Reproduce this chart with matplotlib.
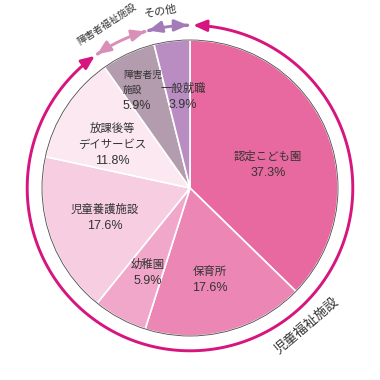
import numpy as np
import matplotlib
matplotlib.use("Agg")
import matplotlib.pyplot as plt
from matplotlib.patches import FancyArrowPatch, Circle
from matplotlib.path import Path

plt.rcParams['font.family'] = ['Liberation Sans', 'Noto Sans CJK JP', 'DejaVu Sans']

# ---- data ----
categories = ["認定こども園", "保育所", "幼稚園", "児童養護施設",
              "放課後等\nデイサービス", "障害者児\n施設", "一般就職"]
values = [37.3, 17.6, 5.9, 17.6, 11.8, 5.9, 3.9]
colors = ["#E8699F", "#EC87B5", "#F1A7C9", "#F6CDE1", "#FBE8F1", "#B49CAF", "#B98DC1"]
group_names = ["児童福祉施設", "障害者福祉施設", "その他"]
group_sizes = [5, 1, 1]            # number of slices in each group
group_colors = ["#D6157F", "#D990B8", "#A47BB9"]

# label layout (data units, pie radius = 1): point between name and percentage
label_pos = [(0.527, 0.162), (0.135, -0.615), (-0.284, -0.568), (-0.574, -0.196),
             (-0.527, 0.243), (-0.453, 0.615), (-0.047, 0.622)]
label_ha = ["center"] * 5 + ["left", "center"]
name_size = [8.2, 8.2, 8.2, 8.2, 8.2, 7.0, 8.2]

fig = plt.figure(figsize=(3.8, 3.8), dpi=100)
ax = fig.add_axes([0, 0, 1, 1])
R = 1.0
ax.pie(values, colors=colors, startangle=90, counterclock=False, radius=R,
       wedgeprops=dict(edgecolor="white", linewidth=1.2))
ax.add_patch(Circle((0, 0), R, fill=False, edgecolor="#4a4a4a", linewidth=0.6, zorder=3))

for cat, v, (x, y), ha, fs in zip(categories, values, label_pos, label_ha, name_size):
    ax.annotate(cat, xy=(x, y), xytext=(0, 1.8), textcoords="offset points",
                ha=ha, va="bottom", multialignment=ha, fontsize=fs,
                color="#333333", linespacing=1.55)
    ax.annotate(f"{v:.1f}%", xy=(x, y), xytext=(0, -2.2), textcoords="offset points",
                ha=ha, va="top", fontsize=9, color="#333333")

# group arcs
cum = np.concatenate([[0], np.cumsum(values)])
total = cum[-1]
def ang(frac_pct):
    return 90 - 360 * frac_pct / total

rr = 1.1
idx = 0
bounds = []
for n in group_sizes:
    bounds.append((ang(cum[idx]), ang(cum[idx + n])))
    idx += n

gaps = [(1.1, -0.5), (0.5, -1.9), (-0.8, -0.7)]
for (a0, a1), col, (g0, g1) in zip(bounds, group_colors, gaps):
    t = np.radians(np.linspace(a0 - g0, a1 - g1, 200))
    path = Path(np.column_stack([rr * np.cos(t), rr * np.sin(t)]))
    arr = FancyArrowPatch(path=path, arrowstyle="<|-|>,head_length=8,head_width=3.4",
                          color=col, linewidth=2.1, zorder=4)
    ax.add_patch(arr)

# group labels
a_mid = -49.7
ax.text(1.225 * np.cos(np.radians(a_mid)), 1.225 * np.sin(np.radians(a_mid)), group_names[0],
        rotation=a_mid + 90, ha="center", va="center", fontsize=9.5, color="#333333",
        rotation_mode="anchor")
a_mid = 116.8
ax.text(1.245 * np.cos(np.radians(a_mid)), 1.245 * np.sin(np.radians(a_mid)), group_names[1],
        rotation=33, ha="center", va="center", fontsize=7.0, color="#333333",
        rotation_mode="anchor")
a_mid = 99.3
ax.text(1.21 * np.cos(np.radians(a_mid)), 1.21 * np.sin(np.radians(a_mid)), group_names[2],
        rotation=a_mid - 90, ha="center", va="center", fontsize=8.0, color="#333333",
        rotation_mode="anchor")

ax.set_xlim(-190 / 148, 190 / 148)
ax.set_ylim(-192 / 148, 188 / 148)
ax.set_aspect("equal")
ax.axis("off")
fig.savefig("out.png", dpi=100)
